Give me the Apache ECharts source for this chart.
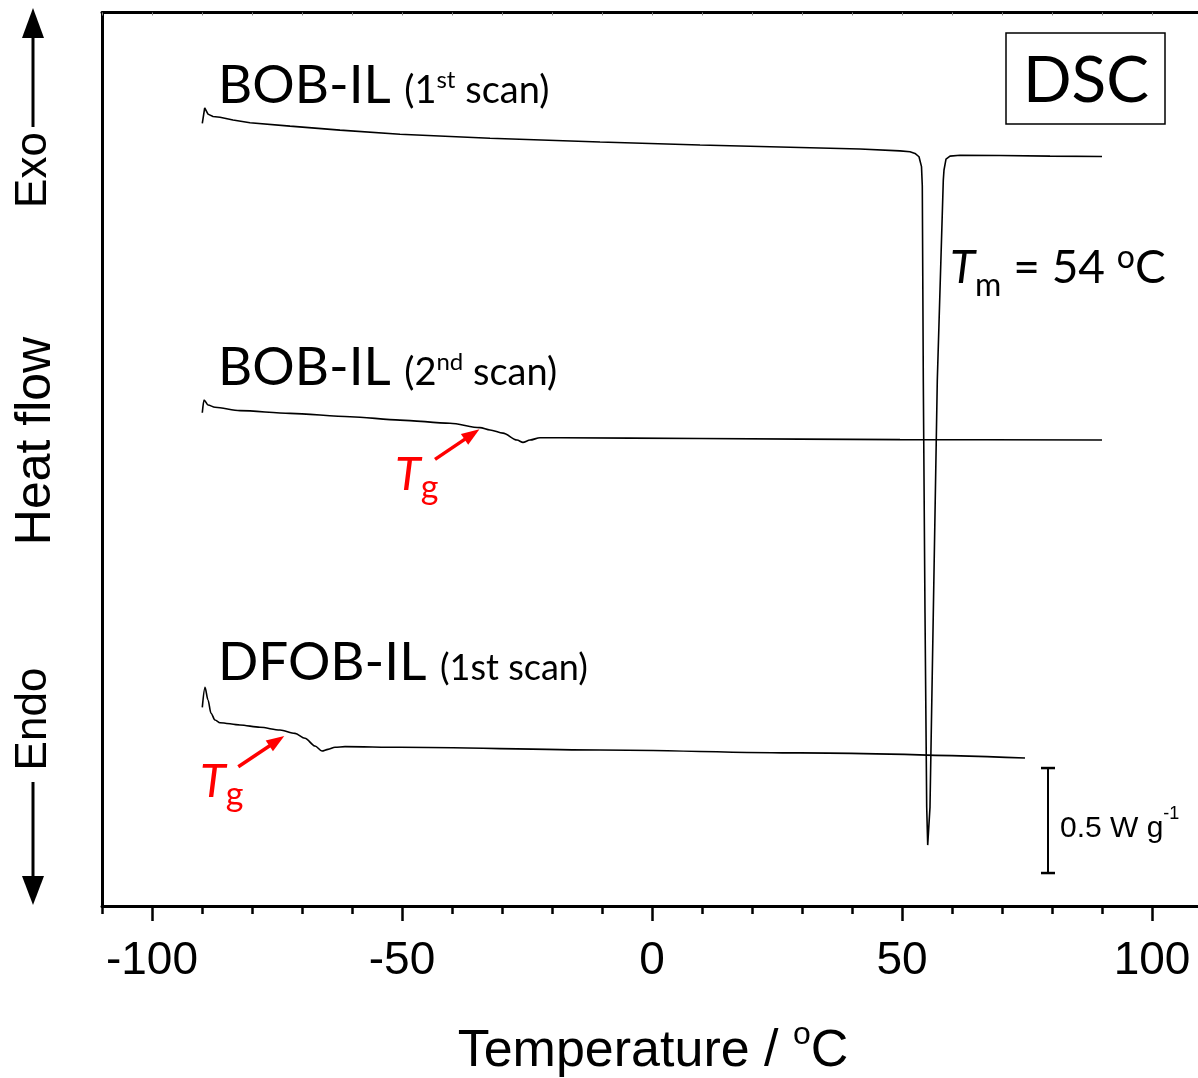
<!DOCTYPE html>
<html><head><meta charset="utf-8">
<script src="https://cdn.jsdelivr.net/npm/echarts@6/dist/echarts.min.js"></script>
<style>html,body{margin:0;padding:0;background:#fff}#c{width:1198px;height:1078px}</style>
</head><body><div id="c"></div>
<script>
// ---- data: temperature (°C) and heat flow (W g^-1, curves offset) ----
const bob1T = [-89.94,-89.46,-88.8,-87.8,-86.4,-83.8,-80.4,-72.4,-62.4,-50.4,-32.4,-10.4,9.6,29.6,41.6,49.6,51.6,52.6,53.4,53.9,54.06,54.26,54.6,54.94,55.14,55.6,56.26,57.06,57.66,58.26,58.4,58.8,59.6,61.6,69.6,79.6,90];
const bob1Y = [3.727,3.801,3.771,3.760,3.756,3.743,3.730,3.714,3.695,3.675,3.656,3.638,3.624,3.612,3.605,3.596,3.592,3.584,3.568,3.521,3.429,2.505,1.395,0.471,0.290,0.471,1.395,2.505,2.981,3.457,3.505,3.557,3.571,3.575,3.574,3.571,3.569];
const bob2T = [-89.94,-89.6,-88.8,-87.4,-82.4,-72.4,-60.4,-50.4,-40.4,-34.4,-32.4,-29.8,-27,-25.8,-24.4,-22.4,-18.4,9.6,49.6,90];
const bob2Y = [2.349,2.410,2.386,2.375,2.359,2.346,2.330,2.314,2.299,2.278,2.267,2.252,2.219,2.208,2.219,2.230,2.230,2.226,2.221,2.219];
const dfobT = [-89.94,-89.4,-88.8,-88.2,-87.4,-86.4,-82.4,-78.4,-74.4,-71.4,-69.4,-67.4,-66,-64.8,-63.4,-61.4,-50.4,-10.4,29.6,74.6];
const dfobY = [0.946,1.041,0.981,0.918,0.886,0.873,0.862,0.851,0.838,0.822,0.799,0.762,0.738,0.746,0.756,0.759,0.756,0.743,0.729,0.705];
const minorTicks = [-110,-100,-90,-80,-70,-60,-50,-40,-30,-20,-10,0,10,20,30,40,50,60,70,80,90,100,110];
const majorTicks = [-100,-50,0,50,100];
const tickLabels = [-100,-50,0,50,100];
const tgArrowBob2 = [[-43.4,2.127],[-36.0,2.246]];
const tgArrowDfob = [[-82.74,0.663],[-75.04,0.786]];
const scaleBarX = 79.2, scaleBarY0 = 0.157, scaleBarLen = 0.5;

// ---- helpers for annotation text ----
const K = {'Lato':0.3225,'Liberation Sans':0.31};
function richText(x, baseline, family, S, parts, color, align) {
  const k = K[family];
  const rich = {};
  let text = '';
  parts.forEach((p, i) => {
    const s = p.s || S;
    const c = k * (S - s) + (p.dy || 0);
    const pad = c >= 0 ? [2 * c, 0, 0, 0] : [0, 0, -2 * c, 0];
    rich['p' + i] = {fontSize: s, fontFamily: family, fontStyle: p.italic ? 'italic' : 'normal',
      fill: color, lineHeight: S, padding: pad, verticalAlign: 'middle'};
    text += '{p' + i + '|' + p.t + '}';
  });
  return {type: 'text', silent: true, style: {x: x, y: baseline - k * S, text: text, rich: rich,
    font: S + 'px ' + family, fill: color,
    align: align || 'left', textAlign: align || 'left', verticalAlign: 'middle', textVerticalAlign: 'middle'}};
}
function rotText(x, y, txt, S) {
  return {type: 'text', silent: true, x: x, y: y, rotation: Math.PI / 2,
    style: {x: 0, y: 0, text: txt, font: S + 'px "Liberation Sans"', fill: '#000',
      align: 'center', textAlign: 'center', verticalAlign: 'middle', textVerticalAlign: 'middle'}};
}

const chart = echarts.init(document.getElementById('c'), null, {renderer: 'canvas'});
const curveStyle = {color: '#000', width: 1.6};
const arrowML = (pts) => ({
  silent: true, symbol: ['none', 'triangle'], symbolSize: [13, 18], label: {show: false},
  lineStyle: {color: '#ff0000', width: 3.5, type: 'solid'}, emphasis: {disabled: true},
  animation: false, data: [[{coord: pts[0]}, {coord: pts[1]}]]
});

const black = '#000';
const option = {
  animation: false,
  grid: {left: 102, right: -4, top: 12.5, bottom: 172, outerBoundsMode: 'none', containLabel: false},
  xAxis: [
    {type: 'value', min: -110, max: 110, position: 'bottom',
      axisLine: {show: true, onZero: false, lineStyle: {color: black, width: 3}},
      axisTick: {show: true, inside: false, length: 8, customValues: minorTicks, lineStyle: {color: black, width: 2.5}},
      axisLabel: {show: true, customValues: tickLabels, margin: 32, fontSize: 46, fontFamily: 'Liberation Sans', color: black},
      splitLine: {show: false}},
    {type: 'value', min: -110, max: 110, position: 'bottom',
      axisLine: {show: false, onZero: false},
      axisTick: {show: true, inside: false, length: 15, customValues: majorTicks, lineStyle: {color: black, width: 2.5}},
      axisLabel: {show: false}, splitLine: {show: false}},
    {type: 'value', min: -110, max: 110, position: 'top',
      axisLine: {show: true, onZero: false, lineStyle: {color: black, width: 3}},
      axisTick: {show: true, inside: true, length: 3, customValues: minorTicks, lineStyle: {color: '#888', width: 1}},
      axisLabel: {show: false}, splitLine: {show: false}}
  ],
  yAxis: {type: 'value', min: 0, max: 4.255,
    axisLine: {show: true, onZero: false, lineStyle: {color: black, width: 3}},
    axisTick: {show: false}, axisLabel: {show: false}, splitLine: {show: false}},
  series: [
    {type: 'line', name: 'BOB-IL 1st', data: bob1T.map((t, i) => [t, bob1Y[i]]), symbol: 'none', smooth: false, lineStyle: curveStyle, silent: true},
    {type: 'line', name: 'BOB-IL 2nd', data: bob2T.map((t, i) => [t, bob2Y[i]]), symbol: 'none', smooth: 0.3, smoothMonotone: 'x', lineStyle: curveStyle, silent: true, markLine: arrowML(tgArrowBob2)},
    {type: 'line', name: 'DFOB-IL 1st', data: dfobT.map((t, i) => [t, dfobY[i]]), symbol: 'none', smooth: 0.3, smoothMonotone: 'x', lineStyle: curveStyle, silent: true, markLine: arrowML(tgArrowDfob)},
    {type: 'line', name: 'scale', data: [[scaleBarX, scaleBarY0], [scaleBarX, scaleBarY0 + scaleBarLen]],
      symbol: 'rect', symbolSize: [14, 2.5], showSymbol: true, itemStyle: {color: black}, lineStyle: {color: black, width: 2}, silent: true}
  ],
  graphic: {elements: [
    richText(218, 103, 'Lato', 53, [{t: 'BOB-IL '}, {t: '(1', s: 38}, {t: 'st', s: 24, dy: -15}, {t: ' scan)', s: 38}], black),
    richText(218, 385, 'Lato', 53, [{t: 'BOB-IL '}, {t: '(2', s: 38}, {t: 'nd', s: 24, dy: -15}, {t: ' scan)', s: 38}], black),
    richText(218, 680, 'Lato', 53, [{t: 'DFOB-IL '}, {t: '(1st scan)', s: 36}], black),
    {type: 'rect', silent: true, shape: {x: 1006, y: 33, width: 159, height: 91}, style: {fill: 'none', stroke: black, lineWidth: 1.5}},
    richText(1086, 102, 'Lato', 64, [{t: 'DSC'}], black, 'center'),
    richText(950, 283, 'Lato', 46, [{t: 'T', italic: true}, {t: 'm', s: 32, dy: 13}, {t: ' = 54 '}, {t: 'o', s: 32, dy: -15}, {t: 'C'}], black),
    richText(395, 490, 'Lato', 47, [{t: 'T', italic: true}, {t: 'g', s: 34, dy: 9}], '#ff0000'),
    richText(200, 797, 'Lato', 47, [{t: 'T', italic: true}, {t: 'g', s: 34, dy: 9}], '#ff0000'),
    richText(1060, 838, 'Liberation Sans', 30, [{t: '0.5 W g'}, {t: '-1', s: 18, dy: -18}], black),
    richText(653, 1068, 'Liberation Sans', 52, [{t: 'Temperature / '}, {t: 'o', s: 32, dy: -23}, {t: 'C'}], black, 'center'),
    rotText(34, 170, 'Exo', 44),
    rotText(36, 441, 'Heat flow', 50),
    rotText(34, 719, 'Endo', 44),
    {type: 'line', silent: true, shape: {x1: 33, y1: 36, x2: 33, y2: 127}, style: {stroke: black, lineWidth: 3}},
    {type: 'polygon', silent: true, shape: {points: [[33, 8], [22, 38], [44, 38]]}, style: {fill: black}},
    {type: 'line', silent: true, shape: {x1: 33, y1: 782, x2: 33, y2: 878}, style: {stroke: black, lineWidth: 3}},
    {type: 'polygon', silent: true, shape: {points: [[33, 905], [22, 876], [44, 876]]}, style: {fill: black}}
  ]}
};
chart.setOption(option);
</script>
</body></html>
